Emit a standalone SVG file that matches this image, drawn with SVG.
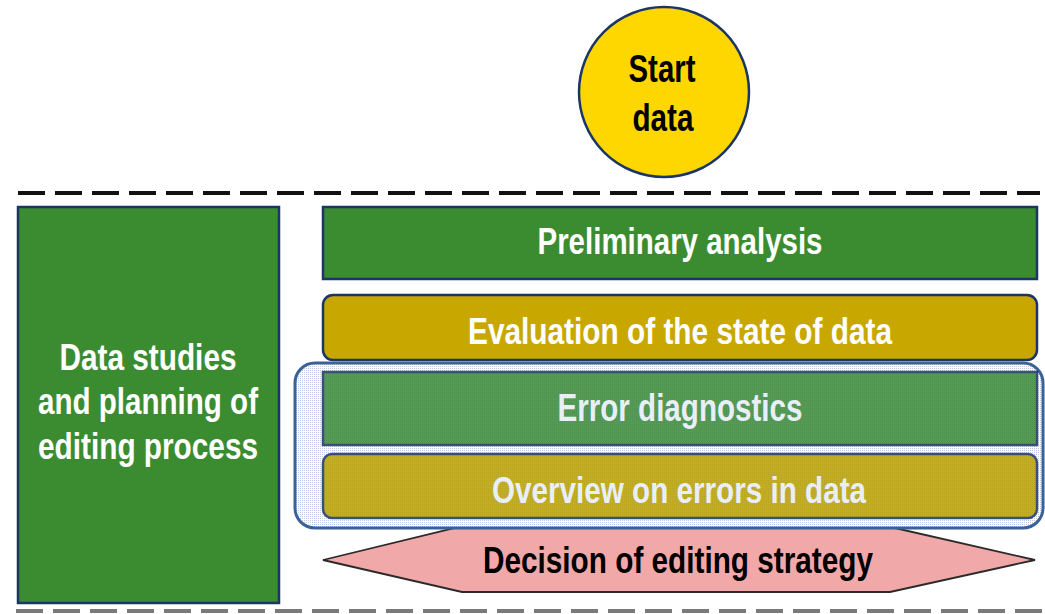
<svg xmlns="http://www.w3.org/2000/svg" width="1045" height="614" viewBox="0 0 1045 614">
  <defs>
    <style>
      .lbl { font-family: "Liberation Sans Narrow", "Liberation Sans", Arial, sans-serif; font-weight: bold; text-anchor: middle; }
      .white { fill: #ffffff; }
      .dark { fill: #000000; }
      .box { stroke: #1b3565; stroke-width: 2.5; }
      .green { fill: #3b8c31; }
      .gold { fill: #c8a800; }
      .sep { fill: none; stroke-width: 4; stroke-dasharray: 27 10; }
    </style>
    <!-- fine light-blue mesh used for the highlighted group -->
    <pattern id="mesh" width="2" height="2" patternUnits="userSpaceOnUse">
      <rect width="2" height="2" fill="#ffffff"/>
      <rect width="1" height="1" fill="#b9cde6"/>
    </pattern>
  </defs>

  <rect width="1045" height="614" fill="#ffffff"/>

  <!-- separators -->
  <g id="separators">
    <line class="sep" x1="18" y1="193" x2="1040" y2="193" stroke="#111111"/>
    <line class="sep" x1="16" y1="611" x2="1045" y2="611" stroke="#7a7a7a" stroke-width="5"/>
  </g>

  <!-- start node -->
  <g id="start">
    <circle cx="664" cy="92" r="85" fill="#ffd700" stroke="#1b3565" stroke-width="2.5"/>
    <text class="lbl dark" x="662" y="82" font-size="38" textLength="67" lengthAdjust="spacingAndGlyphs">Start</text>
    <text class="lbl dark" x="663" y="131" font-size="38" textLength="61" lengthAdjust="spacingAndGlyphs">data</text>
  </g>

  <!-- left planning column -->
  <g id="planning">
    <rect class="box green" x="18" y="207" width="261" height="396"/>
    <text class="lbl white" x="148" y="370" font-size="36" textLength="177" lengthAdjust="spacingAndGlyphs">Data studies</text>
    <text class="lbl white" x="148" y="414" font-size="36" textLength="220" lengthAdjust="spacingAndGlyphs">and planning of</text>
    <text class="lbl white" x="148" y="459" font-size="36" textLength="220" lengthAdjust="spacingAndGlyphs">editing process</text>
  </g>

  <g id="preliminary">
    <rect class="box green" x="323" y="207" width="714" height="72"/>
    <text class="lbl white" x="680" y="254" font-size="36" textLength="285" lengthAdjust="spacingAndGlyphs">Preliminary analysis</text>
  </g>

  <g id="evaluation">
    <rect class="box gold" x="323" y="295" width="714" height="65" rx="10"/>
    <text class="lbl white" x="680" y="344" font-size="37" textLength="424" lengthAdjust="spacingAndGlyphs">Evaluation of the state of data</text>
  </g>

  <!-- decision strategy arrow -->
  <g id="decision">
    <polygon points="323,560 455,528 895,528 1035,560 890,592 462,592" fill="#f0a8a8" stroke="#2a2a2a" stroke-width="1.8" stroke-linejoin="miter"/>
    <text class="lbl dark" x="678" y="573" font-size="37" textLength="390" lengthAdjust="spacingAndGlyphs">Decision of editing strategy</text>
  </g>

  <!-- highlighted group: diagnostics + overview -->
  <g id="diagnostics-group">
    <rect x="295" y="363" width="748" height="165" rx="20" fill="url(#mesh)" stroke="#3a6296" stroke-width="3"/>
    <g id="diagnostics">
      <rect class="box" x="323" y="372" width="714" height="73" fill="#3a8a3a"/>
      <text class="lbl" x="680" y="421" font-size="38" fill="#e8eef8" textLength="245" lengthAdjust="spacingAndGlyphs">Error diagnostics</text>
    </g>
    <g id="overview">
      <rect class="box" x="323" y="454" width="714" height="64" rx="9" fill="#b8a000"/>
      <text class="lbl" x="679" y="503" font-size="37" fill="#e8eef8" textLength="374" lengthAdjust="spacingAndGlyphs">Overview on errors in data</text>
    </g>
    <rect x="297" y="365" width="744" height="161" rx="18" fill="url(#mesh)" opacity="0.14" pointer-events="none"/>
  </g>
</svg>
